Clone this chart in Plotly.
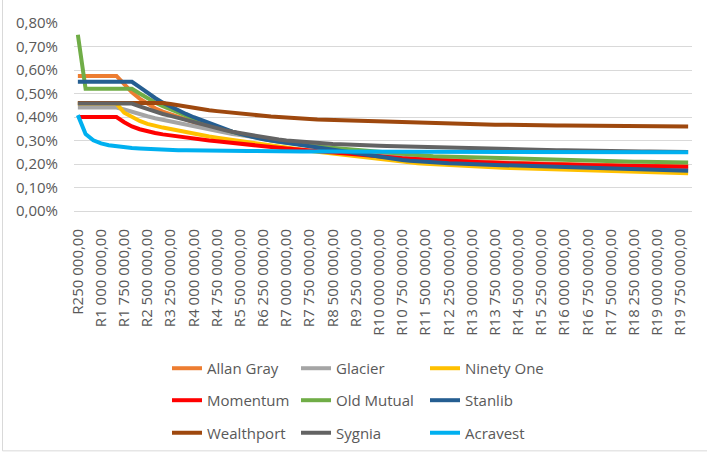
import plotly.graph_objects as go

amounts = [250000 * (i + 1) for i in range(80)]
categories = ["R" + f"{a:,}".replace(",", " ") + ",00" for a in amounts]
tick_labels = categories[::3]

allan_gray = [0.575, 0.575, 0.575, 0.575, 0.575, 0.575, 0.540, 0.505, 0.478, 0.455,
              0.437, 0.423, 0.411, 0.399, 0.388, 0.377, 0.367, 0.358, 0.350, 0.342,
              0.335, 0.328, 0.321, 0.315, 0.309, 0.303, 0.297, 0.291, 0.286, 0.281,
              0.276, 0.271, 0.266, 0.262, 0.257, 0.253, 0.248, 0.243, 0.239, 0.234,
              0.230, 0.228, 0.226, 0.224, 0.222, 0.220, 0.218, 0.216, 0.214, 0.213,
              0.211, 0.210, 0.209, 0.208, 0.207, 0.206, 0.205, 0.204, 0.203, 0.202,
              0.202, 0.201, 0.200, 0.200, 0.199, 0.198, 0.198, 0.197, 0.196, 0.196,
              0.195, 0.194, 0.194, 0.193, 0.192, 0.192, 0.191, 0.191, 0.190, 0.190]

glacier = [0.440, 0.440, 0.440, 0.440, 0.440, 0.440, 0.432, 0.421, 0.411, 0.403,
           0.395, 0.388, 0.381, 0.373, 0.366, 0.359, 0.352, 0.346, 0.340, 0.334,
           0.328, 0.323, 0.318, 0.313, 0.308, 0.303, 0.298, 0.293, 0.288, 0.283,
           0.279, 0.275, 0.271, 0.267, 0.263, 0.259, 0.255, 0.251, 0.247, 0.243,
           0.239, 0.235, 0.231, 0.227, 0.224, 0.221, 0.218, 0.215, 0.212, 0.210,
           0.208, 0.207, 0.206, 0.205, 0.204, 0.203, 0.202, 0.201, 0.200, 0.199,
           0.198, 0.197, 0.196, 0.195, 0.194, 0.193, 0.192, 0.191, 0.190, 0.189,
           0.188, 0.187, 0.186, 0.185, 0.184, 0.183, 0.182, 0.181, 0.180, 0.179]

ninety_one = [0.457, 0.457, 0.457, 0.457, 0.457, 0.457, 0.418, 0.398, 0.383, 0.371,
              0.362, 0.355, 0.349, 0.342, 0.335, 0.328, 0.322, 0.317, 0.312, 0.307,
              0.302, 0.297, 0.292, 0.287, 0.282, 0.277, 0.273, 0.268, 0.264, 0.260,
              0.256, 0.252, 0.248, 0.244, 0.240, 0.236, 0.232, 0.228, 0.224, 0.220,
              0.216, 0.212, 0.209, 0.206, 0.203, 0.201, 0.199, 0.197, 0.195, 0.193,
              0.191, 0.190, 0.188, 0.187, 0.185, 0.184, 0.183, 0.182, 0.181, 0.180,
              0.179, 0.178, 0.177, 0.176, 0.175, 0.174, 0.173, 0.172, 0.171, 0.170,
              0.169, 0.168, 0.167, 0.166, 0.165, 0.164, 0.163, 0.163, 0.162, 0.161]

momentum = [0.400, 0.400, 0.400, 0.400, 0.400, 0.400, 0.378, 0.360, 0.348, 0.339,
            0.332, 0.326, 0.321, 0.316, 0.312, 0.308, 0.304, 0.300, 0.297, 0.293,
            0.290, 0.287, 0.284, 0.280, 0.277, 0.273, 0.269, 0.266, 0.263, 0.260,
            0.257, 0.254, 0.251, 0.248, 0.245, 0.242, 0.239, 0.236, 0.233, 0.231,
            0.228, 0.226, 0.224, 0.222, 0.220, 0.218, 0.216, 0.214, 0.212, 0.211,
            0.209, 0.208, 0.207, 0.206, 0.205, 0.204, 0.203, 0.202, 0.201, 0.200,
            0.200, 0.199, 0.198, 0.198, 0.197, 0.196, 0.196, 0.195, 0.194, 0.194,
            0.193, 0.192, 0.192, 0.191, 0.190, 0.190, 0.189, 0.189, 0.188, 0.188]

old_mutual = [0.750, 0.520, 0.520, 0.520, 0.520, 0.520, 0.520, 0.520, 0.500, 0.480,
              0.462, 0.446, 0.432, 0.418, 0.404, 0.391, 0.379, 0.367, 0.356, 0.346,
              0.337, 0.328, 0.320, 0.313, 0.306, 0.300, 0.295, 0.290, 0.286, 0.282,
              0.278, 0.274, 0.271, 0.268, 0.265, 0.262, 0.259, 0.256, 0.253, 0.250,
              0.247, 0.244, 0.241, 0.238, 0.236, 0.234, 0.233, 0.232, 0.231, 0.230,
              0.229, 0.228, 0.227, 0.226, 0.225, 0.224, 0.223, 0.222, 0.221, 0.220,
              0.219, 0.218, 0.218, 0.217, 0.216, 0.215, 0.215, 0.214, 0.213, 0.212,
              0.212, 0.211, 0.210, 0.210, 0.209, 0.208, 0.208, 0.207, 0.207, 0.206]

stanlib = [0.550, 0.550, 0.550, 0.550, 0.550, 0.550, 0.550, 0.550, 0.527, 0.503,
           0.481, 0.461, 0.444, 0.428, 0.413, 0.399, 0.386, 0.373, 0.361, 0.349,
           0.338, 0.328, 0.319, 0.311, 0.305, 0.300, 0.295, 0.290, 0.285, 0.279,
           0.274, 0.269, 0.263, 0.258, 0.253, 0.248, 0.244, 0.239, 0.234, 0.230,
           0.226, 0.221, 0.217, 0.214, 0.211, 0.209, 0.207, 0.205, 0.203, 0.202,
           0.200, 0.199, 0.198, 0.197, 0.196, 0.195, 0.194, 0.193, 0.192, 0.191,
           0.190, 0.189, 0.188, 0.187, 0.186, 0.185, 0.184, 0.183, 0.182, 0.181,
           0.180, 0.179, 0.178, 0.177, 0.176, 0.175, 0.174, 0.173, 0.172, 0.171]

wealthport = [0.460, 0.460, 0.460, 0.460, 0.460, 0.460, 0.460, 0.460, 0.460, 0.460,
              0.460, 0.460, 0.455, 0.449, 0.444, 0.439, 0.434, 0.429, 0.425, 0.421,
              0.418, 0.414, 0.411, 0.408, 0.405, 0.402, 0.399, 0.397, 0.395, 0.393,
              0.391, 0.389, 0.388, 0.386, 0.385, 0.383, 0.382, 0.380, 0.379, 0.378,
              0.377, 0.376, 0.375, 0.374, 0.373, 0.373, 0.372, 0.371, 0.371, 0.370,
              0.369, 0.369, 0.368, 0.368, 0.367, 0.367, 0.366, 0.366, 0.366, 0.365,
              0.365, 0.365, 0.364, 0.364, 0.364, 0.363, 0.363, 0.363, 0.362, 0.362,
              0.362, 0.362, 0.361, 0.361, 0.361, 0.361, 0.360, 0.360, 0.360, 0.360]

sygnia = [0.457, 0.457, 0.457, 0.457, 0.457, 0.457, 0.457, 0.457, 0.445, 0.433,
          0.423, 0.413, 0.405, 0.396, 0.387, 0.377, 0.368, 0.360, 0.352, 0.344,
          0.337, 0.331, 0.325, 0.319, 0.314, 0.309, 0.304, 0.300, 0.297, 0.294,
          0.291, 0.289, 0.287, 0.285, 0.284, 0.282, 0.281, 0.280, 0.279, 0.278,
          0.277, 0.276, 0.275, 0.274, 0.273, 0.272, 0.271, 0.270, 0.270, 0.269,
          0.268, 0.267, 0.266, 0.266, 0.265, 0.264, 0.263, 0.263, 0.262, 0.261,
          0.261, 0.260, 0.259, 0.259, 0.258, 0.258, 0.257, 0.256, 0.256, 0.255,
          0.255, 0.254, 0.254, 0.253, 0.253, 0.252, 0.252, 0.252, 0.251, 0.251]

acravest = [0.408, 0.328, 0.301, 0.288, 0.280, 0.275, 0.271, 0.268, 0.266, 0.264,
            0.263, 0.261, 0.260, 0.259, 0.259, 0.258, 0.257, 0.257, 0.256, 0.256,
            0.256, 0.255, 0.255, 0.255, 0.254, 0.254, 0.254, 0.254, 0.253, 0.253,
            0.253, 0.253, 0.253, 0.253, 0.252, 0.252, 0.252, 0.252, 0.252, 0.252,
            0.252, 0.252, 0.252, 0.252, 0.252, 0.252, 0.252, 0.252, 0.252, 0.252,
            0.252, 0.252, 0.252, 0.252, 0.252, 0.252, 0.251, 0.251, 0.251, 0.251,
            0.251, 0.251, 0.251, 0.251, 0.251, 0.251, 0.251, 0.251, 0.251, 0.251,
            0.250, 0.250, 0.250, 0.250, 0.250, 0.250, 0.250, 0.250, 0.250, 0.250]

series = [
    ("Allan Gray", allan_gray, "#ED7D31", "legend"),
    ("Glacier", glacier, "#A5A5A5", "legend"),
    ("Ninety One", ninety_one, "#FFC000", "legend"),
    ("Momentum", momentum, "#FF0000", "legend2"),
    ("Old Mutual", old_mutual, "#70AD47", "legend2"),
    ("Stanlib", stanlib, "#255E91", "legend2"),
    ("Wealthport", wealthport, "#9E480E", "legend3"),
    ("Sygnia", sygnia, "#636363", "legend3"),
    ("Acravest", acravest, "#00B0F0", "legend3"),
]

FONT = "Open Sans"
TXT = "#595959"

fig = go.Figure()
for name, vals, color, leg in series:
    fig.add_trace(go.Scatter(
        x=categories, y=vals, name=name, mode="lines",
        line=dict(color=color, width=4), legend=leg,
    ))

L, R, T, B = 74, 15, 19, 249
W, H = 707, 462
pw, ph = W - L - R, H - T - B


def px_to_paper_x(px):
    return (px - L) / pw


def px_to_paper_y(py):
    return (H - B - py) / ph


legend_common = dict(
    orientation="h", xanchor="left", yanchor="middle",
    x=px_to_paper_x(167), entrywidth=84, entrywidthmode="pixels",
    font=dict(family=FONT, size=15, color=TXT), bgcolor="rgba(0,0,0,0)",
    tracegroupgap=0,
)

fig.update_layout(
    width=W, height=H,
    margin=dict(l=L, r=R, t=T, b=B),
    paper_bgcolor="white", plot_bgcolor="white",
    separators=", ",
    font=dict(family=FONT, size=15, color=TXT),
    showlegend=True,
    legend=dict(legend_common, y=px_to_paper_y(375.5)),
    legend2=dict(legend_common, y=px_to_paper_y(408.5)),
    legend3=dict(legend_common, y=px_to_paper_y(442)),
    xaxis=dict(
        type="category", categoryorder="array", categoryarray=categories,
        range=[-0.5, len(categories) - 0.5],
        tickmode="array", tickvals=tick_labels, ticktext=tick_labels,
        tickangle=-90, ticks="outside", ticklen=11, tickcolor="rgba(0,0,0,0)",
        showgrid=False, showline=False, zeroline=False,
        tickfont=dict(family=FONT, size=15, color=TXT),
    ),
    yaxis=dict(
        range=[0, 0.8], dtick=0.1, tick0=0, tickformat=".2f", ticksuffix="%",
        showgrid=True, gridcolor="#D9D9D9", gridwidth=1,
        zeroline=True, zerolinecolor="#D9D9D9", zerolinewidth=1,
        showline=False, ticks="outside", ticklen=12, tickcolor="rgba(0,0,0,0)",
        tickfont=dict(family=FONT, size=15, color=TXT),
    ),
    shapes=[
        dict(type="line", xref="paper", yref="paper",
             x0=px_to_paper_x(2.5), x1=px_to_paper_x(2.5),
             y0=px_to_paper_y(460.5), y1=px_to_paper_y(-5),
             line=dict(color="#D9D9D9", width=1)),
        dict(type="line", xref="paper", yref="paper",
             x0=px_to_paper_x(2.5), x1=px_to_paper_x(712),
             y0=px_to_paper_y(460.5), y1=px_to_paper_y(460.5),
             line=dict(color="#D9D9D9", width=1)),
    ],
)

fig.write_html(
    "out.html",
    config={"displayModeBar": False},
    post_script="document.body.style.margin='0px';document.body.style.overflow='hidden';",
)
